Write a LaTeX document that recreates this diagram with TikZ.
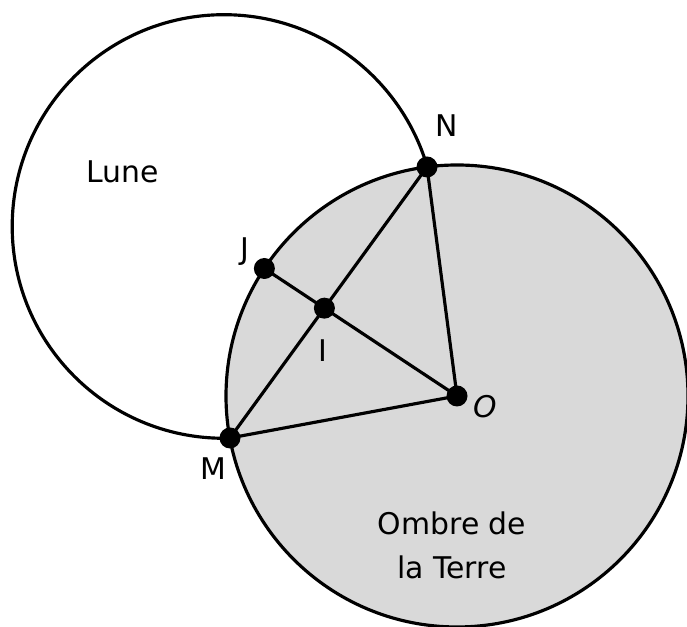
\documentclass[tikz,border=0pt]{standalone}
\usepackage{fontspec}
\setmainfont{DejaVu Sans}
\usetikzlibrary{calc}
\begin{document}
\begin{tikzpicture}[line width=1.8pt,
  point/.style={circle, fill=black, inner sep=0pt, minimum size=0.42cm},
  lbl/.style={font=\fontsize{17}{25}\selectfont, align=center}]
  \useasboundingbox (0,0) rectangle (13.74,12.54);
  % Lune
  \draw (4.48,8.01) circle (4.236);
  % Ombre de la Terre
  \draw[fill=black!15] (9.14,4.62) circle (4.62);
  % Points
  \coordinate (O) at (9.14,4.62);
  \coordinate (M) at (4.60,3.78);
  \coordinate (N) at (8.54,9.20);
  \coordinate (J) at ($(O)+(146.5:4.62)$);
  \coordinate (I) at (intersection of O--J and M--N);
  % Segments
  \draw (M) -- (N) -- (O) -- cycle;
  \draw (O) -- (J);
  \foreach \p in {O,M,N,J,I} \node[point] (dot\p) at (\p) {};
  % Textes
  \node[lbl] (labLune) at (2.46,9.10) {Lune};
  \node[lbl] (labN) at (8.94,10.02) {N};
  \node[lbl] (labJ) at (4.90,7.50) {J};
  \node[lbl] (labI) at (6.46,5.52) {I};
  \node[lbl] (labO) at (9.70,4.40) {\itshape O};
  \node[lbl] (labM) at (4.27,3.16) {M};
  \node[lbl] (labOmbre) at (9.04,1.64) {Ombre de\\la Terre};
\end{tikzpicture}
\end{document}
